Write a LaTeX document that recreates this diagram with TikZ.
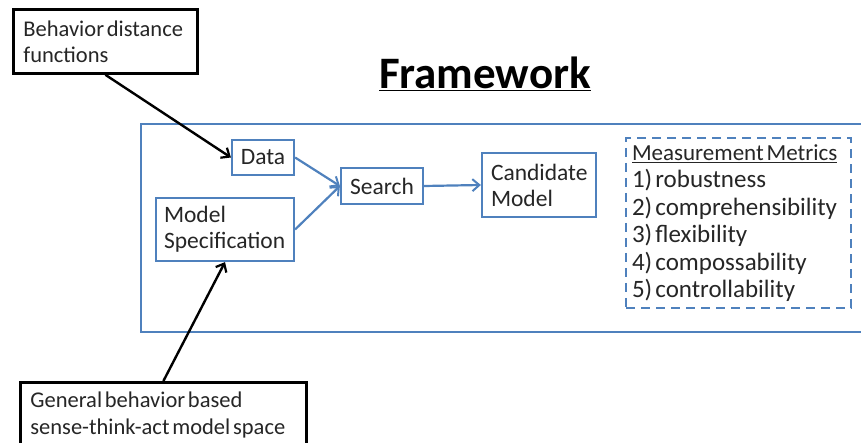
\documentclass[tikz,border=0pt]{standalone}
\usepackage{fontspec}
\setmainfont{Carlito}[WordSpace={0.55,0.3,0.3}]
\usetikzlibrary{arrows.meta}
\definecolor{officeblue}{HTML}{4F81BD}
\definecolor{inktext}{HTML}{262626}
\tikzset{
  x=1pt, y=-1pt,
  txt/.style={font=\fontsize{23.5}{26}\selectfont, text=inktext},
  notebox/.style={draw=black, line width=2.8pt, fill=white, txt, align=flush left,
    inner xsep=10pt, anchor=north west},
  stagebox/.style={draw=officeblue, line width=2.2pt, fill=white, txt,
    inner sep=0pt},
  flow/.style={draw=officeblue, line width=2.2pt,
    -{Straight Barb[length=7pt,width=12pt,line width=2pt]}},
  feed/.style={draw=black, line width=2.4pt,
    -{Straight Barb[length=7pt,width=12pt,line width=2.2pt]}},
}
\begin{document}
\begin{tikzpicture}
\useasboundingbox (0,0) rectangle (861,443);

% outer framework panel (runs off the right edge)
\draw[officeblue, line width=2.8pt] (900,124) -- (141,124) -- (141,332) -- (900,332);

% title
\node[font=\fontsize{45}{50}\selectfont\bfseries, text=black, inner sep=0pt]
  (title) at (485,74) {\underline{Framework}};

% stages of the framework
\node[stagebox, minimum width=62pt, minimum height=35pt] (data) at (263,157.5) {Data};
\node[stagebox, align=flush left, text width=122pt, inner xsep=8pt,
  minimum height=63pt] (spec) at (225,229.5) {Model\\Specification};
\node[stagebox, minimum width=82pt, minimum height=36pt] (search) at (382,186) {Search};
\node[stagebox, align=flush left, text width=96pt, inner xsep=9pt,
  minimum height=64pt] (cand) at (539,185) {Candidate\\Model};

% measurement metrics list
\node[draw=officeblue, line width=2.2pt, dash pattern=on 9pt off 6pt, txt,
  font=\fontsize{25}{27.5}\selectfont, align=flush left, text width=213pt,
  inner xsep=6pt, minimum height=170pt, fill=white]
  (metrics) at (738.5,223)
  {{\fontsize{23}{27.5}\selectfont\underline{Measurement Metrics}}\\
   1) robustness\\2) comprehensibility\\
   3) flexibility\\4) compossability\\5) controllability};

% external inputs
\node[notebox, text width=164pt, inner ysep=0pt, minimum height=64pt,
  font=\fontsize{22.5}{26}\selectfont]
  (dist) at (12,8) {Behavior distance\\functions};
\node[notebox, text width=266pt, inner ysep=9pt, font=\fontsize{22.5}{27}\selectfont]
  (space) at (19,381)
  {General behavior based\\sense-think-act model space\\[6pt]\strut};

% connectors
\draw[feed] (dist.south) -- (data.west);
\draw[feed] (space.north) -- (spec.south);
\draw[flow] (data.east) -- (search.west);
\draw[flow] (spec.east) -- (search.west);
\draw[flow] (search.east) -- (cand.west);
\end{tikzpicture}
\end{document}
